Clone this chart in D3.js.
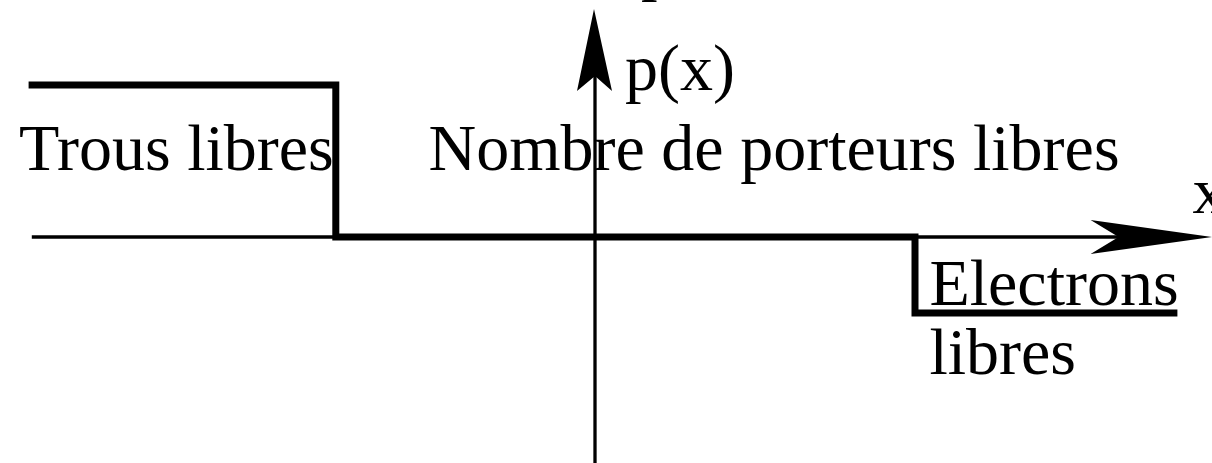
<!DOCTYPE html>
<html>
<head>
<meta charset="utf-8">
<script src="https://cdn.jsdelivr.net/npm/d3@7"></script>
<style>
  html, body { margin: 0; padding: 0; background: #fff; overflow: hidden; }
  svg { display: block; }
</style>
</head>
<body>
<div id="chart"></div>
<script>
// step profile of free carriers: x edges (arbitrary units, origin on the p axis)
const stepEdges = [-17.7, -8.1, 10.0, 18.2];
// level of each segment: holes (+), none, electrons (-)
const stepLevels = [2, 0, -1];
// axis extents
const xAxisExtent = [-17.6, 19.3];
const yAxisExtent = [-3.5, 3.0];
// texts
const axisLabels = { x: "x", y: "p(x)" };
const regionLabels = [
  { text: "Trous libres", x: -18.0, y: 0.88 },
  { text: "Nombre de porteurs libres", x: -5.2, y: 0.88 },
  { text: "Electrons", x: 10.45, y: -0.9 },
  { text: "libres", x: 10.45, y: -1.8 }
];

const width = 1212, height = 463;

const svg = d3.select('#chart')
  .append('svg')
  .attr('width', width)
  .attr('height', height);

// scales: origin at (595, 237)
const x = d3.scaleLinear().domain([0, 10]).range([595, 915]);
const y = d3.scaleLinear().domain([0, 1]).range([237, 161]);

const font = "'Liberation Serif', 'Times New Roman', serif";

// x axis (thin line + dart arrow)
const xTip = x(xAxisExtent[1]);
svg.append('line')
  .attr('x1', x(xAxisExtent[0])).attr('x2', xTip - 20)
  .attr('y1', y(0)).attr('y2', y(0))
  .attr('stroke', '#000').attr('stroke-width', 3.3);

svg.append('path')
  .attr('d', `M${xTip},${y(0)} L${xTip - 122},${y(0) - 17} L${xTip - 94},${y(0)} L${xTip - 122},${y(0) + 17} Z`)
  .attr('fill', '#000');

// y axis
const yTip = y(yAxisExtent[1]);
svg.append('line')
  .attr('x1', x(0)).attr('x2', x(0))
  .attr('y1', y(yAxisExtent[0])).attr('y2', yTip + 20)
  .attr('stroke', '#000').attr('stroke-width', 3.3);

svg.append('path')
  .attr('d', `M${x(0) - 1},${yTip} L${x(0) - 18},${yTip + 82} L${x(0)},${yTip + 67} L${x(0) + 17},${yTip + 82} Z`)
  .attr('fill', '#000');

// step curve
const stepPts = [];
stepLevels.forEach((lv, i) => {
  stepPts.push([stepEdges[i], lv]);
  stepPts.push([stepEdges[i + 1], lv]);
});
const line = d3.line()
  .x(d => x(d[0]))
  .y(d => y(d[1]));

svg.append('path')
  .datum(stepPts)
  .attr('d', line)
  .attr('fill', 'none')
  .attr('stroke', '#000')
  .attr('stroke-width', 7)
  .attr('stroke-linejoin', 'miter')
  .attr('stroke-linecap', 'butt');

// labels
const text = (t, px, py) => svg.append('text')
  .attr('x', px).attr('y', py)
  .attr('font-family', font)
  .attr('font-size', 66)
  .attr('fill', '#000')
  .text(t);

regionLabels.forEach(d => text(d.text, x(d.x), y(d.y)));

text(axisLabels.y, x(0) + 30, 90);
text(axisLabels.x, xTip - 20, 213);
// glyph cut by the top edge
text("p", 641, -12);
</script>
</body>
</html>
